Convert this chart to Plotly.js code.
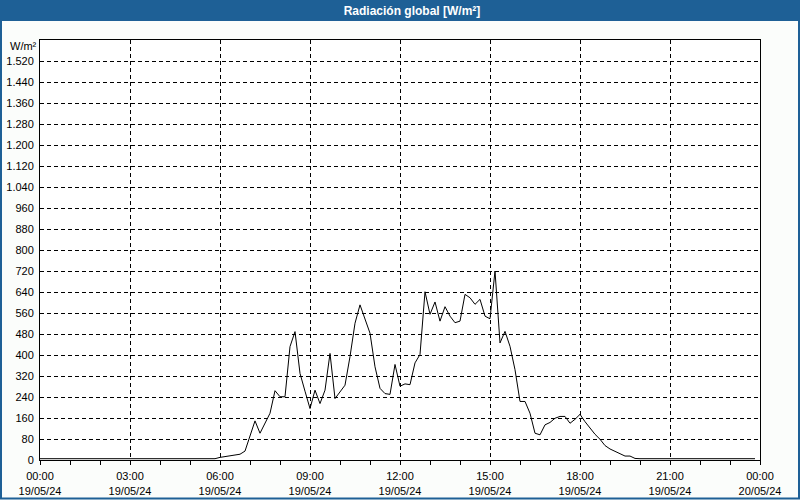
<!DOCTYPE html>
<html>
<head>
<meta charset="utf-8">
<script src="https://cdn.plot.ly/plotly-3.0.1.min.js"></script>
<style>
html,body{margin:0;padding:0;background:#fbfdfb;}
#chart{width:800px;height:500px;}
</style>
</head>
<body>
<div id="chart"></div>
<script>
// 10-minute readings of global radiation, 19/05/24 00:00 .. 23:50
const startDay = '2024-05-19';
const stepMinutes = 10;
const radiation = [
  // 00:00 - 05:50
  5,5,5,5,5,5, 5,5,5,5,5,5, 5,5,5,5,5,5, 5,5,5,5,5,5, 5,5,5,5,5,5, 5,5,5,5,5,5,
  // 06:00 - 06:50
  10,13,17,19,22,34,
  // 07:00 - 07:50
  95,149,102,140,178,264,
  // 08:00 - 08:50
  241,241,432,489,330,262,
  // 09:00 - 09:50
  196,266,215,266,406,234,
  // 10:00 - 10:50
  260,285,394,521,591,534,
  // 11:00 - 11:50
  483,355,273,253,250,364,
  // 12:00 - 12:50
  281,290,287,370,402,641,
  // 13:00 - 13:50
  555,602,529,584,548,523,
  // 14:00 - 14:50
  529,631,618,593,612,548,
  // 15:00 - 15:50
  538,720,446,490,433,344,
  // 16:00 - 16:50
  223,223,178,102,96,134,
  // 17:00 - 17:50
  143,159,166,166,140,155,
  // 18:00 - 18:50
  174,146,121,98,79,55,
  // 19:00 - 19:50
  42,32,23,15,15,6,
  // 20:00 - 23:50
  5,5,5,5,5,5, 5,5,5,5,5,5, 5,5,5,5,5,5, 5,5,5,5,5,5
];
const xTickVals = ['2024-05-19 00:00','2024-05-19 03:00','2024-05-19 06:00','2024-05-19 09:00',
  '2024-05-19 12:00','2024-05-19 15:00','2024-05-19 18:00','2024-05-19 21:00','2024-05-20 00:00'];
const xTickText = ['00:00<br>19/05/24','03:00<br>19/05/24','06:00<br>19/05/24','09:00<br>19/05/24',
  '12:00<br>19/05/24','15:00<br>19/05/24','18:00<br>19/05/24','21:00<br>19/05/24','00:00<br>20/05/24'];
const yTickVals = [0,80,160,240,320,400,480,560,640,720,800,880,960,1040,1120,1200,1280,1360,1440,1520];
const chartTitle = 'Radiación global [W/m²]';
const unitLabel = 'W/m²';

function pad(n){return (n<10?'0':'')+n;}
const times = radiation.map((v,i)=>{
  const mins = i*stepMinutes;
  return startDay+' '+pad(Math.floor(mins/60))+':'+pad(mins%60);
});

const W=800,H=500,L=40,R=40,T=40,B=40;
const pw=W-L-R, ph=H-T-B;
const px = x => (x-L)/pw;
const py = y => (H-B-y)/ph;
const blue = '#1e6096';
const font = {family:'"Liberation Sans", Arial, sans-serif', size:11, color:'#000'};

const trace = {
  x: times, y: radiation, type:'scatter', mode:'lines',
  line:{color:'#000', width:1}, hoverinfo:'skip'
};

const layout = {
  width:W, height:H,
  margin:{l:L,r:R,t:T,b:B,pad:0},
  paper_bgcolor:'#fbfdfb', plot_bgcolor:'#ffffff',
  showlegend:false,
  separators:',.',
  font: font,
  title:{text:chartTitle, x:412/W, xanchor:'center', y:1-10.5/H, yanchor:'middle', yref:'container',
    font:{family:'"Liberation Sans", Arial, sans-serif', size:12, color:'#ffffff', weight:'bold'}},
  xaxis:{
    type:'date', range:['2024-05-19 00:00','2024-05-20 00:00'],
    tickmode:'array', tickvals:xTickVals, ticktext:xTickText,
    ticks:'outside', ticklen:4, tickcolor:'#000', tickwidth:1,
    showgrid:true, gridcolor:'#000', gridwidth:1, griddash:'4px,3px',
    showline:true, linecolor:'#000', linewidth:1, mirror:true,
    zeroline:false, tickfont:font, ticklabelstandoff:2,
    minor:{tickmode:'linear', tick0:'2024-05-19 00:00', dtick:3600000, ticks:'outside', ticklen:4, tickcolor:'#000', showgrid:false},
    fixedrange:true
  },
  yaxis:{
    range:[0,1600], tickmode:'array', tickvals:yTickVals,
    separatethousands:true, tickformat:',d',
    ticks:'', showgrid:true, gridcolor:'#000', gridwidth:1, griddash:'4px,3px',
    showline:true, linecolor:'#000', linewidth:1, mirror:true,
    zeroline:false, tickfont:font, ticklabelstandoff:3,
    fixedrange:true
  },
  shapes:[
    {type:'rect', xref:'paper', yref:'paper', x0:px(-2), x1:px(802), y0:py(21), y1:py(-2),
     fillcolor:blue, line:{width:0}, layer:'above'},
    {type:'rect', xref:'paper', yref:'paper', x0:px(1), x1:px(799), y0:py(498.5), y1:py(10),
     fillcolor:'rgba(0,0,0,0)', line:{color:blue, width:2}, layer:'above'}
  ],
  annotations:[
    {xref:'paper', yref:'paper', x:px(23.5), y:py(46), text:unitLabel, showarrow:false,
     xanchor:'center', yanchor:'middle', font:font}
  ]
};

Plotly.newPlot('chart',[trace],layout,{staticPlot:true, displayModeBar:false});
</script>
</body>
</html>
